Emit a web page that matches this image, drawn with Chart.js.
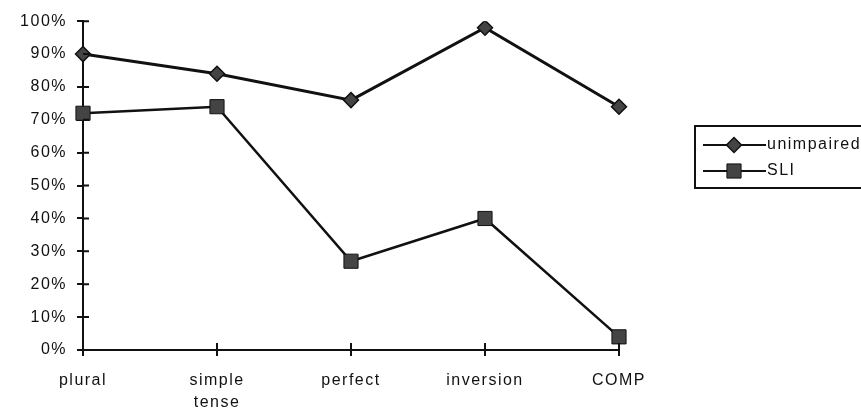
<!DOCTYPE html>
<html>
<head>
<meta charset="utf-8">
<script src="https://cdn.jsdelivr.net/npm/chart.js@4/dist/chart.umd.min.js"></script>
<style>
  html, body { margin: 0; padding: 0; background: #fff; }
  #wrap { width: 861px; height: 409px; }
</style>
</head>
<body>
<div id="wrap"><canvas id="chart" width="861" height="409"></canvas></div>
<script>
const categories = [["plural"], ["simple", "tense"], ["perfect"], ["inversion"], ["COMP"]];
const unimpaired = [90, 84, 76, 98, 74];
const sli = [72, 74, 27, 40, 4];
const yTicks = [0, 10, 20, 30, 40, 50, 60, 70, 80, 90, 100];

const FONT = { family: "'Liberation Sans', Arial, sans-serif", size: 16, lineHeight: 1.4 };
const INK = "#111";

// old Mac-style spaced lettering
const spacing = {
  id: "spacing",
  beforeLayout(chart) { chart.ctx.letterSpacing = "1.5px"; },
  beforeDraw(chart) { chart.ctx.letterSpacing = "1.5px"; }
};

// ticks that cross the axis lines (draw the inner half)
const crossTicks = {
  id: "crossTicks",
  afterDraw(chart) {
    const { ctx, chartArea, scales } = chart;
    ctx.save();
    ctx.strokeStyle = INK;
    ctx.lineWidth = 2;
    ctx.beginPath();
    scales.y.ticks.forEach((t, i) => {
      const y = scales.y.getPixelForTick(i);
      ctx.moveTo(chartArea.left, y);
      ctx.lineTo(chartArea.left + 6, y);
    });
    scales.x.ticks.forEach((t, i) => {
      const x = scales.x.getPixelForTick(i);
      ctx.moveTo(x, chartArea.bottom);
      ctx.lineTo(x, chartArea.bottom - 7);
    });
    ctx.stroke();
    ctx.restore();
  }
};

// boxed legend at the right, line sample through the marker
const boxLegend = {
  id: "boxLegend",
  afterDraw(chart) {
    const ctx = chart.ctx;
    ctx.save();
    ctx.strokeStyle = INK;
    ctx.lineWidth = 2;
    ctx.strokeRect(695, 126, 200, 62);
    chart.data.datasets.forEach((ds, i) => {
      const y = 145 + i * 26;
      ctx.strokeStyle = INK;
      ctx.lineWidth = 2;
      ctx.beginPath();
      ctx.moveTo(703, y);
      ctx.lineTo(766, y);
      ctx.stroke();
      ctx.fillStyle = ds.pointBackgroundColor;
      ctx.strokeStyle = ds.pointBorderColor;
      ctx.lineWidth = ds.pointBorderWidth;
      Chart.helpers.drawPoint(ctx, { pointStyle: ds.pointStyle, radius: ds.pointRadius, rotation: 0, borderWidth: ds.pointBorderWidth }, 734, y);
      ctx.fillStyle = INK;
      ctx.font = FONT.size + "px " + FONT.family;
      ctx.textBaseline = "middle";
      ctx.textAlign = "left";
      ctx.fillText(ds.label, 767, y);
    });
    ctx.restore();
  }
};

new Chart(document.getElementById("chart"), {
  type: "line",
  data: {
    labels: categories,
    datasets: [
      {
        label: "unimpaired",
        data: unimpaired,
        borderColor: INK,
        borderWidth: 3,
        pointStyle: "rectRot",
        pointRadius: 7.5,
        pointBackgroundColor: "#444",
        pointBorderColor: INK,
        pointBorderWidth: 1.5,
        tension: 0
      },
      {
        label: "SLI",
        data: sli,
        borderColor: INK,
        borderWidth: 2.5,
        pointStyle: "rect",
        pointRadius: 10,
        pointBackgroundColor: "#444",
        pointBorderColor: INK,
        pointBorderWidth: 1,
        tension: 0
      }
    ]
  },
  options: {
    responsive: false,
    animation: false,
    layout: { padding: { left: 0, top: 20, right: 242, bottom: 0 } },
    plugins: { legend: { display: false }, tooltip: { enabled: false } },
    scales: {
      x: {
        type: "category",
        offset: false,
        grid: { drawOnChartArea: false, tickLength: 6, color: INK, lineWidth: 2 },
        border: { color: INK, width: 2 },
        ticks: { color: INK, font: FONT, padding: 13, maxRotation: 0, autoSkip: false },
        afterFit: s => { s.height = 59; }
      },
      y: {
        min: 0,
        max: 100,
        afterBuildTicks: s => { s.ticks = yTicks.map(v => ({ value: v })); },
        grid: { drawOnChartArea: false, tickLength: 6, color: INK, lineWidth: 2 },
        border: { color: INK, width: 2 },
        ticks: { color: INK, font: FONT, padding: 10, callback: v => v + "%" },
        afterFit: s => { s.width = 83; }
      }
    }
  },
  plugins: [spacing, crossTicks, boxLegend]
});
</script>
</body>
</html>
